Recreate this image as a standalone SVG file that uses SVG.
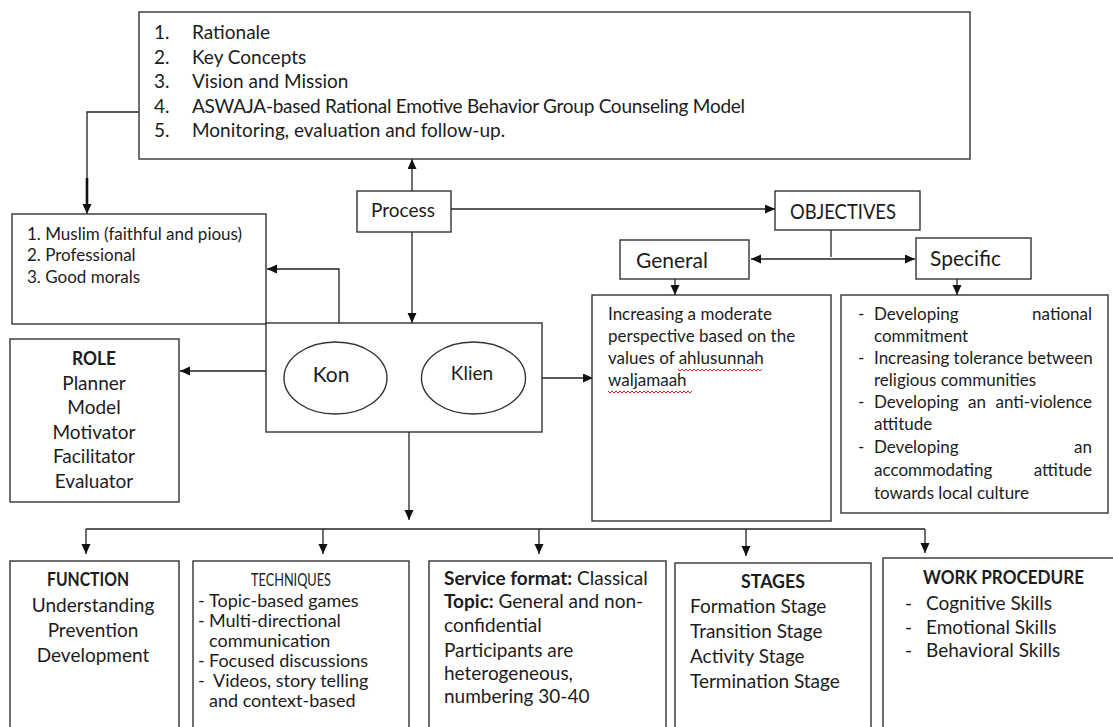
<svg xmlns="http://www.w3.org/2000/svg" width="1113" height="727" viewBox="0 0 1113 727">
<style>
.box{fill:#fff;stroke:#333;stroke-width:1.4}
.ln{fill:none;stroke:#222;stroke-width:1.3}
text{font-family:Lato,"Liberation Sans",sans-serif;fill:#1c1c1c}
.t20{font-size:19px}
.t18{font-size:17px}
.t22{font-size:21px}
.b{font-weight:bold}
.c{text-anchor:middle}
.e{text-anchor:end}
.wavy{fill:none;stroke:#e02020;stroke-width:1}
</style>
<defs>
<marker id="ah" markerUnits="userSpaceOnUse" markerWidth="11" markerHeight="10" refX="10" refY="4.5" orient="auto-start-reverse">
<path d="M0,0 L10,4.5 L0,9 z" fill="#111"/>
</marker>
</defs>
<rect width="1113" height="727" fill="#fff"/>

<g id="connectors">
<path class="ln" d="M139,112 H87 V214" marker-end="url(#ah)"/>
<path d="M87,178 V204" stroke="#111" stroke-width="2.6"/>
<path class="ln" d="M412,191 V159" marker-end="url(#ah)"/>
<path class="ln" d="M451,209 H775" marker-end="url(#ah)"/>
<path class="ln" d="M412,232 V323" marker-end="url(#ah)"/>
<path class="ln" d="M831,230 V257"/>
<path class="ln" d="M751,259 H915" marker-start="url(#ah)" marker-end="url(#ah)"/>
<path class="ln" d="M675,279 V295" marker-end="url(#ah)"/>
<path class="ln" d="M957,279 V295" marker-end="url(#ah)"/>
<path class="ln" d="M339,323 V269 H267" marker-end="url(#ah)"/>
<path class="ln" d="M284,371 H180" marker-end="url(#ah)"/>
<path class="ln" d="M387,378 H421" marker-start="url(#ah)" marker-end="url(#ah)"/>
<path class="ln" d="M526,378 H593" marker-end="url(#ah)"/>
<path class="ln" d="M409,432 V520" marker-end="url(#ah)"/>
<path class="ln" d="M86,529 H925"/>
<path class="ln" d="M86,529 V554" marker-end="url(#ah)"/>
<path class="ln" d="M323,529 V554" marker-end="url(#ah)"/>
<path class="ln" d="M539,529 V554" marker-end="url(#ah)"/>
<path class="ln" d="M746,529 V556" marker-end="url(#ah)"/>
<path class="ln" d="M925,529 V553" marker-end="url(#ah)"/>
</g>

<g id="components">
<rect class="box" x="139" y="12" width="831" height="147"/>
<g class="t20">
<text x="154" y="39">1.</text><text x="192" y="39">Rationale</text>
<text x="154" y="63.5">2.</text><text x="192" y="63.5">Key Concepts</text>
<text x="154" y="88">3.</text><text x="192" y="88">Vision and Mission</text>
<text x="154" y="112.5">4.</text><text x="192" y="112.5" textLength="553" lengthAdjust="spacing">ASWAJA-based Rational Emotive Behavior Group Counseling Model</text>
<text x="154" y="137">5.</text><text x="192" y="137">Monitoring, evaluation and follow-up.</text>
</g>
</g>

<g id="qualities">
<rect class="box" x="12" y="214" width="254" height="110"/>
<g class="t18">
<text x="27" y="240">1. Muslim (faithful and pious)</text>
<text x="27" y="261">2. Professional</text>
<text x="27" y="283">3. Good morals</text>
</g>
</g>

<g id="process">
<rect class="box" x="357" y="191" width="94" height="41"/>
<text class="t20 c" x="403" y="217">Process</text>
</g>

<g id="objectives">
<rect class="box" x="775" y="191" width="145" height="39"/>
<text x="790" y="219" style="font-size:21px" textLength="106" lengthAdjust="spacingAndGlyphs">OBJECTIVES</text>
</g>

<g id="general">
<rect class="box" x="620" y="240" width="129" height="39"/>
<text class="t22" x="636" y="268">General</text>
</g>

<g id="specific">
<rect class="box" x="916" y="238" width="115" height="41"/>
<text class="t22" x="930" y="266">Specific</text>
</g>

<g id="general-objective">
<rect class="box" x="592" y="295" width="239" height="226"/>
<g class="t18">
<text x="608" y="320">Increasing a moderate</text>
<text x="608" y="342">perspective based on the</text>
<text x="608" y="364">values of ahlusunnah</text>
<text x="608" y="386">waljamaah</text>
</g>
<path class="wavy" d="M678,369 l2,2 l2,-2 l2,2 l2,-2 l2,2 l2,-2 l2,2 l2,-2 l2,2 l2,-2 l2,2 l2,-2 l2,2 l2,-2 l2,2 l2,-2 l2,2 l2,-2 l2,2 l2,-2 l2,2 l2,-2 l2,2 l2,-2 l2,2 l2,-2 l2,2 l2,-2 l2,2 l2,-2 l2,2 l2,-2 l2,2 l2,-2 l2,2 l2,-2 l2,2 l2,-2 l2,2 l2,-2 l2,2 l2,-2"/>
<path class="wavy" d="M608,391 l2,2 l2,-2 l2,2 l2,-2 l2,2 l2,-2 l2,2 l2,-2 l2,2 l2,-2 l2,2 l2,-2 l2,2 l2,-2 l2,2 l2,-2 l2,2 l2,-2 l2,2 l2,-2 l2,2 l2,-2 l2,2 l2,-2 l2,2 l2,-2 l2,2 l2,-2 l2,2 l2,-2 l2,2 l2,-2 l2,2 l2,-2 l2,2 l2,-2 l2,2 l2,-2 l2,2 l2,-2 l2,2 l2,-2"/>
</g>

<g id="specific-objective">
<rect class="box" x="841" y="295" width="267" height="218"/>
<g class="t18">
<text x="858" y="320">-</text><text x="858" y="364">-</text><text x="858" y="408">-</text><text x="858" y="453">-</text>
<text x="874" y="320">Developing</text><text class="e" x="1092" y="320">national</text>
<text x="874" y="342">commitment</text>
<text x="874" y="364">Increasing tolerance between</text>
<text x="874" y="386">religious communities</text>
<text x="874" y="408">Developing</text><text x="968" y="408">an</text><text class="e" x="1092" y="408">anti-violence</text>
<text x="874" y="430">attitude</text>
<text x="874" y="453">Developing</text><text class="e" x="1092" y="453">an</text>
<text x="874" y="476">accommodating</text><text class="e" x="1092" y="476">attitude</text>
<text x="874" y="499">towards local culture</text>
</g>
</g>

<g id="counseling">
<rect class="box" x="266" y="323" width="276" height="109"/>
<ellipse class="box" cx="335.5" cy="378" rx="51.5" ry="36"/>
<ellipse class="box" cx="473.5" cy="378" rx="52" ry="36"/>
<text class="t22 c" x="331" y="382">Kon</text>
<text class="t20 c" x="472" y="380">Klien</text>
</g>

<g id="role">
<rect class="box" x="10" y="339" width="169" height="163"/>
<g class="t20 c">
<text class="b" x="94" y="365" textLength="44" lengthAdjust="spacingAndGlyphs">ROLE</text>
<text x="94" y="390">Planner</text>
<text x="94" y="414">Model</text>
<text x="94" y="439">Motivator</text>
<text x="94" y="463">Facilitator</text>
<text x="94" y="488">Evaluator</text>
</g>
</g>

<g id="function">
<rect class="box" x="10" y="561" width="169" height="190"/>
<g class="t20 c">
<text class="b" x="88" y="586" textLength="82" lengthAdjust="spacingAndGlyphs">FUNCTION</text>
<text x="93" y="612">Understanding</text>
<text x="93" y="637">Prevention</text>
<text x="93" y="662">Development</text>
</g>
</g>

<g id="techniques">
<rect class="box" x="193" y="561" width="216" height="190"/>
<text x="251" y="586" style="font-size:17px" textLength="80" lengthAdjust="spacingAndGlyphs">TECHNIQUES</text>
<g style="font-size:18px">
<text x="198" y="607">-</text><text x="209" y="607">Topic-based games</text>
<text x="198" y="627">-</text><text x="209" y="627">Multi-directional</text>
<text x="209" y="647">communication</text>
<text x="198" y="667">-</text><text x="209" y="667">Focused discussions</text>
<text x="198" y="687">-</text><text x="213" y="687">Videos, story telling</text>
<text x="209" y="707">and context-based</text>
</g>
</g>

<g id="service">
<rect class="box" x="429" y="561" width="237" height="190"/>
<g class="t20">
<text x="444" y="585"><tspan class="b">Service format:</tspan> Classical</text>
<text x="444" y="608"><tspan class="b">Topic:</tspan> General and non-</text>
<text x="444" y="632">confidential</text>
<text x="444" y="657">Participants are</text>
<text x="444" y="680">heterogeneous,</text>
<text x="444" y="703">numbering 30-40</text>
</g>
</g>

<g id="stages">
<rect class="box" x="675" y="563" width="196" height="190"/>
<g class="t20">
<text class="b c" x="773" y="588" textLength="64" lengthAdjust="spacingAndGlyphs">STAGES</text>
<text x="690" y="613">Formation Stage</text>
<text x="690" y="638">Transition Stage</text>
<text x="690" y="663">Activity Stage</text>
<text x="690" y="688">Termination Stage</text>
</g>
</g>

<g id="work-procedure">
<rect class="box" x="883" y="558" width="240" height="195"/>
<g class="t20">
<text class="b" x="923" y="584" textLength="161" lengthAdjust="spacingAndGlyphs">WORK PROCEDURE</text>
<text x="905" y="610">-</text><text x="926" y="610">Cognitive Skills</text>
<text x="905" y="634">-</text><text x="926" y="634">Emotional Skills</text>
<text x="905" y="657">-</text><text x="926" y="657">Behavioral Skills</text>
</g>
</g>
</svg>
